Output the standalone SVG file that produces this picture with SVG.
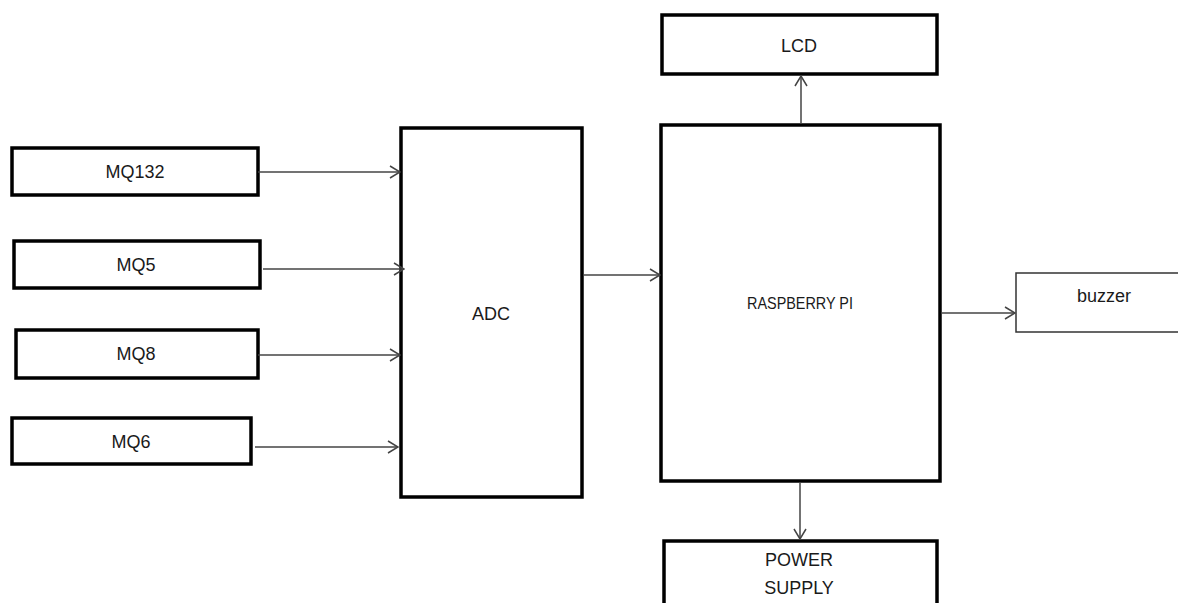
<svg xmlns="http://www.w3.org/2000/svg" width="1178" height="603" viewBox="0 0 1178 603">
<style>
.box{fill:#fff;stroke:#000;stroke-width:3.5}
.thin{fill:#fff;stroke:#333;stroke-width:1.5}
.lbl{font-family:"Liberation Sans Narrow","Liberation Sans",sans-serif;font-size:18px;fill:#1a1a1a;text-anchor:middle}
.conn{stroke:#444;stroke-width:1.5;fill:none;marker-end:url(#arr)}
</style>
<defs>
<marker id="arr" viewBox="0 0 12 14" refX="11" refY="7" markerWidth="12" markerHeight="14" markerUnits="userSpaceOnUse" orient="auto">
<path d="M1,1 L11,7 L1,13" fill="none" stroke="#444" stroke-width="1.5"/>
</marker>
</defs>
<rect width="1178" height="603" fill="#fff"/>
<g id="mq132"><rect class="box" x="12" y="148" width="246" height="47"/><text class="lbl" x="135" y="178">MQ132</text></g>
<g id="mq5"><rect class="box" x="14" y="241" width="246" height="47"/><text class="lbl" x="136" y="271">MQ5</text></g>
<g id="mq8"><rect class="box" x="16" y="330" width="242" height="48"/><text class="lbl" x="136" y="360">MQ8</text></g>
<g id="mq6"><rect class="box" x="12" y="418" width="239" height="46"/><text class="lbl" x="131" y="448">MQ6</text></g>
<g id="adc"><rect class="box" x="401" y="128" width="181" height="369"/><text class="lbl" x="491" y="320">ADC</text></g>
<g id="rpi"><rect class="box" x="661" y="125" width="279" height="356"/><text class="lbl" x="800" y="309" style="font-size:17px" textLength="106" lengthAdjust="spacingAndGlyphs">RASPBERRY PI</text></g>
<g id="lcd"><rect class="box" x="662" y="15" width="275" height="59"/><text class="lbl" x="799" y="52">LCD</text></g>
<g id="buzzer"><path class="thin" d="M1180,273 L1016,273 L1016,332 L1180,332"/><text class="lbl" x="1104" y="302">buzzer</text></g>
<g id="power"><rect class="box" x="664" y="541" width="273" height="70"/><text class="lbl" x="799" y="566">POWER</text><text class="lbl" x="799" y="594">SUPPLY</text></g>
<g id="connectors">
<line class="conn" x1="258" y1="172" x2="400" y2="172"/>
<line class="conn" x1="263" y1="269" x2="404" y2="269"/>
<line class="conn" x1="258" y1="355" x2="400" y2="355"/>
<line class="conn" x1="255" y1="447" x2="398" y2="447"/>
<line class="conn" x1="584" y1="275" x2="660" y2="275"/>
<line class="conn" x1="801" y1="124" x2="801" y2="76"/>
<line class="conn" x1="941" y1="313" x2="1015" y2="313"/>
<line class="conn" x1="800" y1="482" x2="800" y2="539"/>
</g>
</svg>
